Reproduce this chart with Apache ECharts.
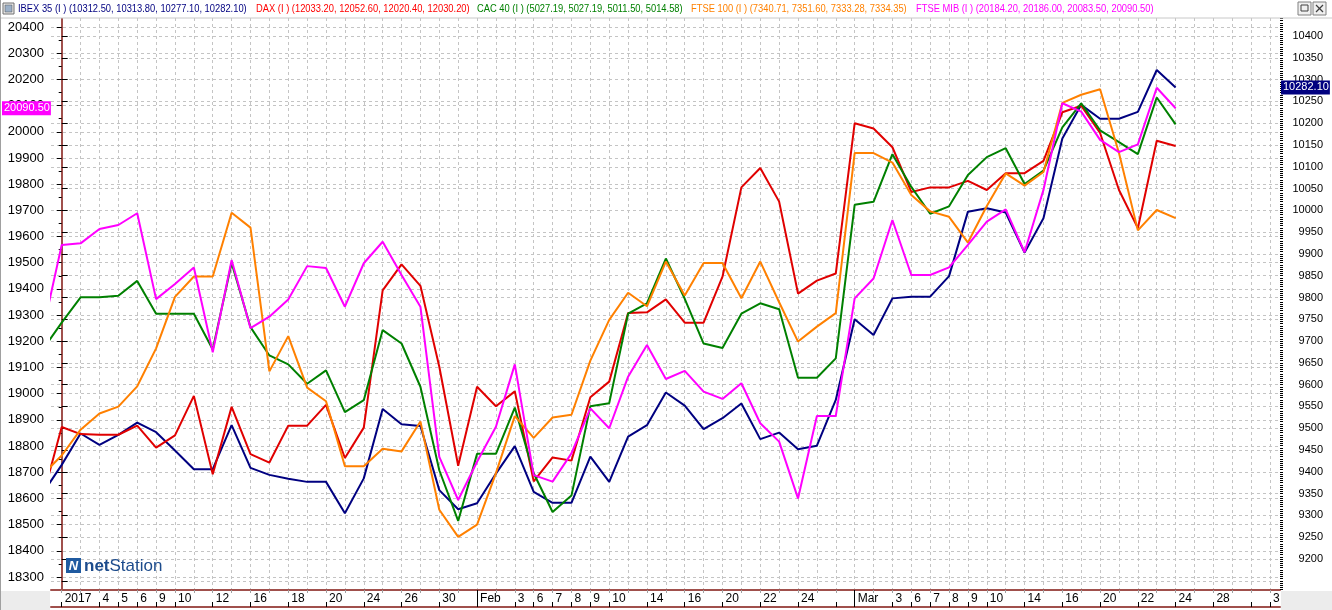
<!DOCTYPE html>
<html><head><meta charset="utf-8">
<script src="https://cdn.jsdelivr.net/npm/echarts@6/dist/echarts.min.js"></script>
<style>html,body{margin:0;padding:0;background:#fff;overflow:hidden}#c{width:1332px;height:610px}</style>
</head><body><div id="c"></div>
<script>
// ---- data (trading-day index: -1 = 30 Dec 2016, 0 = 2 Jan 2017 ... 59 = 24 Mar 2017)
const dayIndex = [];
for (let k = -1; k <= 59; k++) dayIndex.push(k);
const ibex = [9351,9416,9488,9462,9485,9513,9491,9449,9406,9406,9507,9409,9393,9384,9377,9377,9305,9385,9544,9509,9505,9358,9314,9328,9396,9459,9354,9329,9329,9435,9377,9481,9507,9582,9552,9498,9523,9557,9475,9490,9452,9460,9565,9750,9714,9798,9802,9802,9849,9997,10005,9995,9903,9982,10165,10242,10210,10210,10226,10322,10282];
const dax = [11490,11598,11587,11586,11586,11600,11566,11585,11646,11525,11629,11556,11543,11600,11600,11632,11550,11597,11809,11849,11816,11691,11538,11660,11630,11653,11514,11551,11546,11644,11668,11774,11775,11795,11759,11759,11830,11968,11998,11946,11804,11824,11835,12067,12059,12030,11961,11968,11968,11978,11964,11990,11990,12009,12084,12094,12052,11964,11905,12040,12032];
const cac = [4864,4882,4899,4899,4900,4910,4888,4888,4888,4864,4922,4879,4860,4854,4841,4850,4822,4830,4877,4868,4839,4783,4749,4794,4794,4825,4781,4755,4766,4826,4828,4888,4895,4925,4898,4868,4865,4888,4895,4891,4845,4845,4858,4961,4963,4995,4973,4955,4960,4981,4993,4999,4975,4984,5013,5029,5011,5003,4995,5033,5015];
const ftse = [7145,7159,7178,7190,7195,7210,7238,7276,7291,7291,7338,7327,7221,7247,7209,7199,7151,7151,7164,7162,7184,7119,7099,7108,7146,7188,7172,7187,7189,7229,7259,7279,7269,7302,7277,7301,7301,7275,7302,7272,7243,7254,7264,7382,7382,7375,7351,7339,7335,7316,7343,7367,7358,7368,7419,7425,7429,7382,7325,7340,7334];
const mib = [19240,19568,19574,19629,19644,19689,19361,19419,19482,19158,19510,19250,19294,19360,19487,19480,19332,19498,19580,19453,19332,18759,18594,18740,18874,19112,18689,18664,18772,18944,18868,19065,19186,19056,19087,19008,18980,19040,18887,18817,18600,18915,18915,19364,19440,19663,19453,19453,19482,19568,19657,19704,19540,19778,20109,20077,19969,19922,19952,20168,20090];

const xLabelIdx  = [0,2,3,4,5,6,8,10,12,14,16,18,20,22,24,25,26,27,28,29,31,33,35,37,39,42,44,45,46,47,48,49,51,53,55,57,59,61,64];
const xLabelText = ['2017','4','5','6','9','10','12','16','18','20','24','26','30','Feb','3','6','7','8','9','10','14','16','20','22','24','Mar','3','6','7','8','9','10','14','16','20','22','24','28','3'];
const xExtraTicks = [41,63];
const monthStarts = [22,42];

const leftLabels = [];  for (let v = 18300; v <= 20400; v += 100) leftLabels.push(v);
const leftMinor = [];   for (let v = 18350; v <= 20350; v += 100) leftMinor.push(v);
const rightLabels = []; for (let v = 9200; v <= 10400; v += 50) rightLabels.push(v);
const rightTicks = [];  for (let v = 9150; v <= 10400; v += 50) rightTicks.push(v);
const rightMinor = [];  for (let v = 9130; v <= 10440; v += 5) rightMinor.push(v);
const dayTicks = [];    for (let k = 0; k <= 64; k++) dayTicks.push(k);

const legendItems = [
  {text:'IBEX 35 (I ) (10312.50, 10313.80, 10277.10, 10282.10)', color:'#000080', x:18},
  {text:'DAX (I ) (12033.20, 12052.60, 12020.40, 12030.20)', color:'#ff0000', x:256},
  {text:'CAC 40 (I ) (5027.19, 5027.19, 5011.50, 5014.58)', color:'#008000', x:477},
  {text:'FTSE 100 (I ) (7340.71, 7351.60, 7333.28, 7334.35)', color:'#ff8000', x:691},
  {text:'FTSE MIB (I ) (20184.20, 20186.00, 20083.50, 20090.50)', color:'#ff00ff', x:916}
];

// ---- chart
const AX = '#a0504c';
const GRIDC = '#c4c4c4';
const FONT = 'Liberation Sans, Arial, sans-serif';
const pts = arr => arr.map((v, i) => [dayIndex[i], v]);
const plain = v => String(Math.round(v));
const chart = echarts.init(document.getElementById('c'), null, {renderer:'canvas'});

const xmin = (51 - 61.7) / 18.88, xmax = (1280 - 61.7) / 18.88;
const baseX = {type:'value', min:xmin, max:xmax, position:'bottom', gridIndex:0};
const hiddenY = (min, max) => ({type:'value', min, max, show:false});

const option = {
  animation:false,
  backgroundColor:'#ffffff',
  grid:{left:51, right:52, top:18, bottom:20, show:false},
  xAxis:[
    Object.assign({}, baseX, {
      axisLine:{show:true, lineStyle:{color:AX, width:2}},
      axisTick:{show:true, customValues:dayTicks, length:3, lineStyle:{color:'#a0a0a0'}},
      axisLabel:{show:false},
      splitLine:{show:true, lineStyle:{color:GRIDC, type:[3,3], width:1}}
    }),
    Object.assign({}, baseX, {
      offset:17,
      axisLine:{show:true, lineStyle:{color:AX, width:2}},
      axisTick:{show:true, inside:true, customValues:xLabelIdx.concat(xExtraTicks), length:5, lineStyle:{color:'#000'}},
      axisLabel:{show:true, inside:true, customValues:xLabelIdx, margin:8, align:'left', verticalAlign:'middle',
        padding:[0,0,0,3], fontFamily:FONT, fontSize:12, color:'#000',
        formatter:v => { const i = xLabelIdx.indexOf(Math.round(v)); return i >= 0 ? xLabelText[i] : ''; }},
      splitLine:{show:false}
    }),
    Object.assign({}, baseX, {
      offset:17,
      axisLine:{show:false},
      axisTick:{show:true, inside:true, customValues:monthStarts, length:17, lineStyle:{color:'#000'}},
      axisLabel:{show:false},
      splitLine:{show:false}
    })
  ],
  yAxis:[
    {type:'value', position:'left', min:18250.4, max:20434.4,
      axisLine:{show:true, lineStyle:{color:AX, width:2}},
      axisTick:{show:true, customValues:leftLabels, length:5, lineStyle:{color:'#000'}},
      axisLabel:{show:true, customValues:leftLabels, margin:7, fontFamily:FONT, fontSize:13, color:'#000', formatter:plain},
      splitLine:{show:true, lineStyle:{color:GRIDC, type:[3,3], width:1}}},
    {type:'value', position:'right', min:9128.9, max:10441.3,
      axisLine:{show:true, lineStyle:{color:AX, width:2}},
      axisTick:{show:true, customValues:rightTicks, length:6, lineStyle:{color:'#000'}},
      axisLabel:{show:true, customValues:rightLabels, margin:43, align:'right', fontFamily:FONT, fontSize:11, color:'#000', formatter:plain},
      splitLine:{show:true, lineStyle:{color:GRIDC, type:[3,3], width:1}}},
    {type:'value', position:'left', min:18250.4, max:20434.4,
      axisLine:{show:false},
      axisTick:{show:true, customValues:leftMinor, length:3, lineStyle:{color:'#000'}},
      axisLabel:{show:false}, splitLine:{show:false}},
    {type:'value', position:'right', min:9128.9, max:10441.3,
      axisLine:{show:false},
      axisTick:{show:true, customValues:rightMinor, length:3, lineStyle:{color:'#000'}},
      axisLabel:{show:false}, splitLine:{show:false}},
    hiddenY(11346.2, 12229.6),
    hiddenY(4702.7, 5086.3),
    hiddenY(7059.8, 7481.6)
  ],
  series:[
    {name:'IBEX 35', type:'line', xAxisIndex:0, yAxisIndex:1, data:pts(ibex), showSymbol:false, lineStyle:{color:'#000080', width:2}, itemStyle:{color:'#000080'}, z:2},
    {name:'DAX', type:'line', xAxisIndex:0, yAxisIndex:4, data:pts(dax), showSymbol:false, lineStyle:{color:'#e00000', width:2}, itemStyle:{color:'#e00000'}, z:2},
    {name:'CAC 40', type:'line', xAxisIndex:0, yAxisIndex:5, data:pts(cac), showSymbol:false, lineStyle:{color:'#008000', width:2}, itemStyle:{color:'#008000'}, z:2},
    {name:'FTSE 100', type:'line', xAxisIndex:0, yAxisIndex:6, data:pts(ftse), showSymbol:false, lineStyle:{color:'#ff8000', width:2}, itemStyle:{color:'#ff8000'}, z:2},
    {name:'FTSE MIB', type:'line', xAxisIndex:0, yAxisIndex:0, data:pts(mib), showSymbol:false, lineStyle:{color:'#ff00ff', width:2}, itemStyle:{color:'#ff00ff'}, z:2}
  ]
};
chart.setOption(option);

// ---- decorations, header, value boxes, logo
const yMib = chart.convertToPixel({yAxisIndex:0}, mib[mib.length - 1]);
const yIbex = chart.convertToPixel({yAxisIndex:1}, ibex[ibex.length - 1]);
const g = [];
g.push({type:'rect', shape:{x:0, y:0, width:1332, height:18}, style:{fill:'#ffffff'}, z:1});
g.push({type:'line', shape:{x1:0, y1:18, x2:1332, y2:18}, style:{stroke:'#c8c8c8', lineWidth:1}, z:2});
g.push({type:'rect', shape:{x:0, y:591, width:50, height:19}, style:{fill:'#ececec'}, z:1});
g.push({type:'rect', shape:{x:1281, y:591, width:51, height:19}, style:{fill:'#ececec'}, z:1});
g.push({type:'line', shape:{x1:0.5, y1:0, x2:0.5, y2:610}, style:{stroke:'#a0a0a0', lineWidth:1}, z:3});
g.push({type:'rect', shape:{x:3, y:3, width:11, height:11}, style:{fill:'#e8e8e8', stroke:'#707070', lineWidth:1}, z:3});
g.push({type:'rect', shape:{x:5, y:5, width:7, height:7}, style:{fill:'#9bb0c8', stroke:'#505050', lineWidth:0.5}, z:3});
legendItems.forEach(it => g.push({type:'text', x:it.x, y:9, scaleX:0.85, style:{text:it.text, fill:it.color, font:'11px ' + FONT, textVerticalAlign:'middle'}, z:3}));
[1298, 1313].forEach((bx, i) => {
  g.push({type:'rect', shape:{x:bx, y:2, width:13, height:13}, style:{fill:'#f0f0f0', stroke:'#808080', lineWidth:1}, z:3});
  if (i === 0) g.push({type:'rect', shape:{x:bx+3, y:5, width:7, height:6}, style:{fill:'none', stroke:'#404040', lineWidth:1}, z:4});
  else {
    g.push({type:'line', shape:{x1:bx+3, y1:5, x2:bx+10, y2:12}, style:{stroke:'#404040', lineWidth:1.2}, z:4});
    g.push({type:'line', shape:{x1:bx+10, y1:5, x2:bx+3, y2:12}, style:{stroke:'#404040', lineWidth:1.2}, z:4});
  }
});
g.push({type:'text', x:2, y:yMib, style:{text:'20090.50', fill:'#ffffff', font:'11px ' + FONT, backgroundColor:'#ff00ff', padding:[2,1,1,2], textVerticalAlign:'middle'}, z:10});
g.push({type:'text', x:1281, y:yIbex, style:{text:'10282.10', fill:'#ffffff', font:'11px ' + FONT, backgroundColor:'#000080', padding:[2,1,1,2], textVerticalAlign:'middle'}, z:10});
g.push({type:'rect', shape:{x:66, y:558, width:15, height:15}, style:{fill:'#1f5aa0'}, z:5});
g.push({type:'text', x:73.5, y:566, style:{text:'N', fill:'#ffffff', font:'italic bold 13px ' + FONT, textAlign:'center', textVerticalAlign:'middle'}, z:6});
g.push({type:'text', x:84, y:566, style:{rich:{a:{font:'bold 17px ' + FONT, fill:'#1c4b8c'}, b:{font:'17px ' + FONT, fill:'#1c4b8c'}}, text:'{a|net}{b|Station}', textVerticalAlign:'middle'}, z:6});
chart.setOption({graphic:{elements:g}});
</script>
</body></html>
